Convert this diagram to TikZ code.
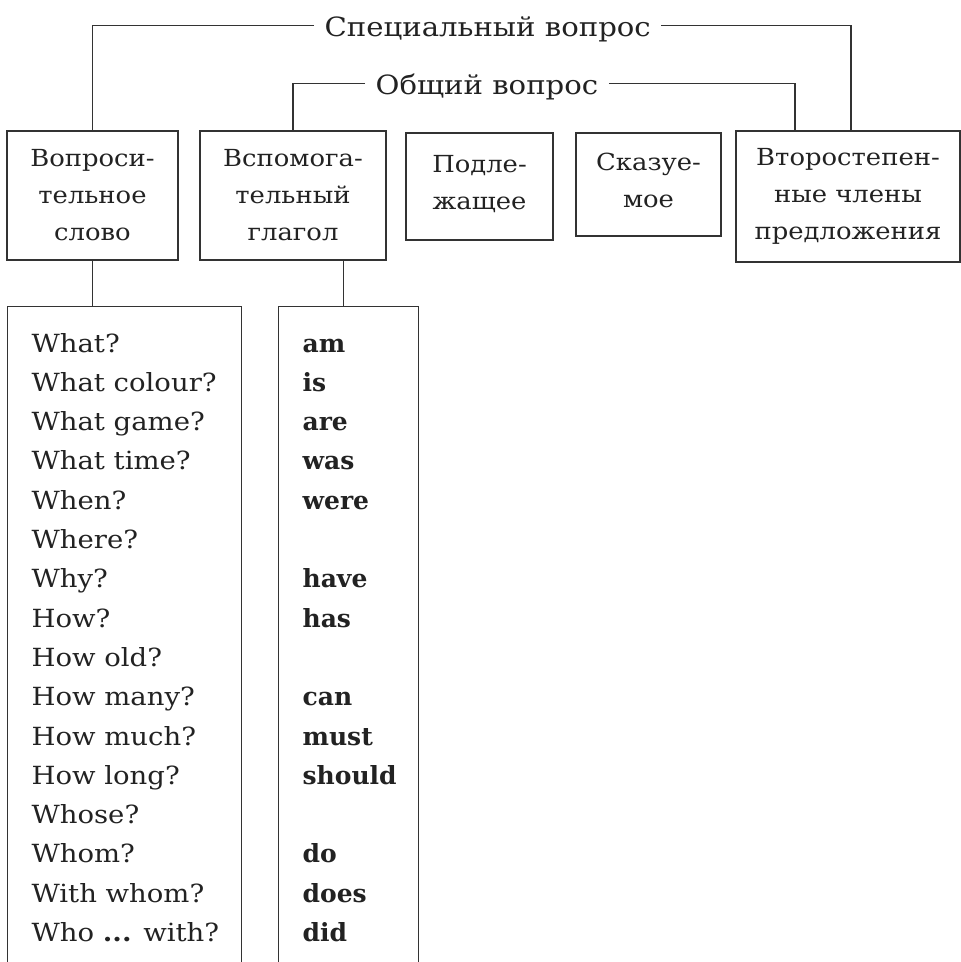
\documentclass[tikz,border=0pt]{standalone}
\usepackage{fontspec}
\setmainfont[FakeStretch=1.1]{DejaVu Serif}
\newfontfamily\bfam{DejaVu Serif}
\newcommand\myfs{\fontsize{23.5}{37}\selectfont}
\newcommand\myhfs{\fontsize{26.5}{37}\selectfont}
\newcommand\mylfs{\fontsize{25}{39.3}\selectfont}
\newcommand\myblfs{\bfam\bfseries\fontsize{25}{39.3}\selectfont}
\definecolor{ink}{HTML}{222222}
\definecolor{ln}{HTML}{333333}
\begin{document}
\begin{tikzpicture}[x=1pt,y=-1pt,line width=1.2pt,
  box/.style={draw=ln, align=center, inner sep=0pt, font=\myfs, text=ink},
  hdr/.style={inner xsep=10pt, inner ysep=0pt, text height=21pt, text depth=0pt, font=\myhfs, text=ink, anchor=base west},
  listbox/.style={draw=ln, inner sep=0pt, anchor=north west},
  item/.style={anchor=base west, inner sep=0pt, font=\mylfs, text=ink},
  bitem/.style={anchor=base west, inner sep=0pt, font=\myblfs, text=ink},
  conn/.style={draw=ln}]
\useasboundingbox (0,0) rectangle (961,962);
\clip (0,0) rectangle (961,962);
% header labels
\node[hdr] (spec) at (314,36) {Специальный вопрос};
\node[hdr] (obsh) at (365,94) {Общий вопрос};
% top boxes
\node[box, minimum width=171, minimum height=129] (b1) at (92.5,195.5) {Вопроси-\\тельное\\слово};
\node[box, minimum width=186, minimum height=129] (b2) at (293,195.5) {Вспомога-\\тельный\\глагол};
\node[box, minimum width=147, minimum height=107, text depth=9pt] (b3) at (479.5,186.5) {Подле-\\жащее};
\node[box, minimum width=145, minimum height=103, text depth=9pt] (b4) at (648.5,184.5) {Сказуе-\\мое};
\node[box, minimum width=224, minimum height=131] (b5) at (848,196.5) {Второстепен-\\ные члены\\предложения};
% list boxes
\node[listbox, minimum width=234, minimum height=700] (l1) at (7,306) {};
\node[listbox, minimum width=140, minimum height=700] (l2) at (278,306) {};
% connectors
\draw[conn] (spec.west) -| (b1.north);
\draw[conn] (spec.east) -| ([xshift=3]b5.north);
\draw[conn] (obsh.west) -| (b2.north);
\draw[conn] (obsh.east) -| ([xshift=-53]b5.north);
\draw[conn] (b1.south) -- (b1.south |- l1.north);
\draw[conn] ([xshift=-5]l2.north) -- ([xshift=-5]l2.north |- b2.south);
% list texts
\foreach \t [count=\i from 0] in {What?,What colour?,What game?,What time?,When?,Where?,Why?,How?,How old?,How many?,How much?,How long?,Whose?,Whom?,With whom?,Who {\bfseries...} with?}
  \node[item] at (31,{352+39.3*\i}) {\t};
\foreach \t/\i in {am/0,is/1,are/2,was/3,were/4,have/6,has/7,can/9,must/10,should/11,do/13,does/14,did/15}
  \node[bitem] at (302,{352+39.3*\i}) {\t};
\end{tikzpicture}
\end{document}
